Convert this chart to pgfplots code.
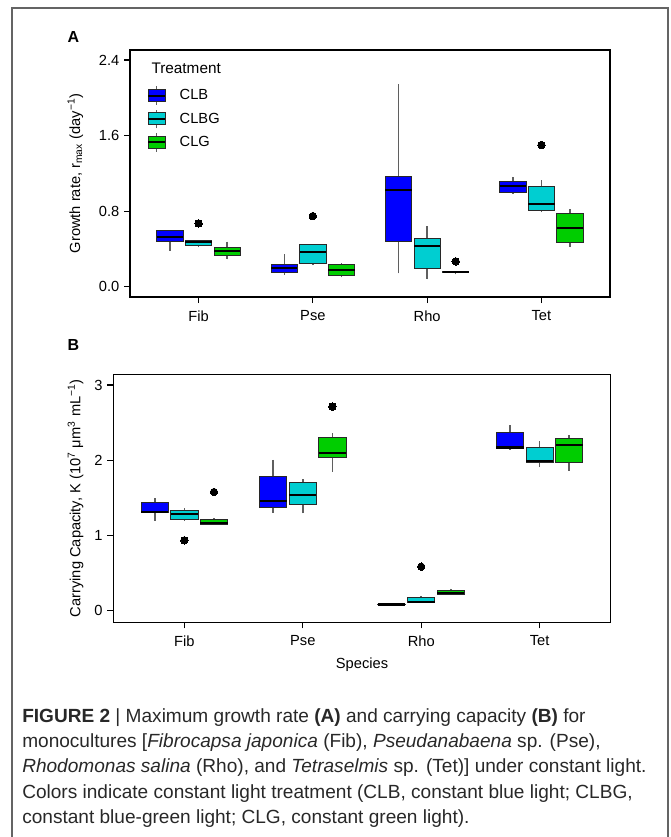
\documentclass[border=0pt]{standalone}
\usepackage{pgfplots}
\pgfplotsset{compat=1.18}
\usepgfplotslibrary{statistics}
\usepackage{fontspec}
\setmainfont{Liberation Sans}
\definecolor{clb}{RGB}{0,0,255}
\definecolor{clbg}{RGB}{0,206,209}
\definecolor{clg}{RGB}{0,205,0}
\definecolor{boxedge}{RGB}{40,40,40}
\definecolor{whiskergray}{RGB}{95,95,95}
\definecolor{framegray}{RGB}{100,100,100}
\definecolor{captext}{RGB}{40,40,40}

% #1 colour, #2 position, #3 lower whisker, #4 lower quartile, #5 median, #6 upper quartile, #7 upper whisker, #8 outliers
\newcommand{\bx}[8]{%
  \addplot[fill=#1, draw=boxedge, line width=0.75pt, mark=*, mark size=2.8pt,
    mark options={black, fill=black, line width=0pt},
    boxplot prepared={draw direction=y, draw position=#2, lower whisker=#3, lower quartile=#4,
      median=#5, upper quartile=#6, upper whisker=#7}] coordinates {#8};}

\pgfplotsset{
  panel/.style={
    scale only axis, xmin=0.4, xmax=4.6,
    axis line style={line width=1.1pt, black},
    tick style={line width=0.8pt, black},
    tick align=outside, major tick length=4.5pt,
    xtick pos=left, ytick pos=left,
    xtick={1,2,3,4}, xticklabels={Fib,Pse,Rho,Tet},
    tick label style={font=\fontsize{11}{13}\selectfont},
    xticklabel style={yshift=-2pt},
    label style={font=\fontsize{11}{13}\selectfont},
    /pgf/number format/assume math mode=true,
    boxplot/draw direction=y,
    boxplot/box extend=0.23,
    boxplot/whisker extend=0,
    boxplot/every whisker/.style={draw=whiskergray, line width=1.1pt},
    boxplot/every median/.style={draw=black, line width=1.6pt},
  },
}

\newcommand{\legicon}[1]{%
  \addlegendimage{legend image code/.code={%
    \draw[whiskergray, line width=1.1pt] (6.5pt,-7pt) -- (6.5pt,7pt);
    \draw[fill=#1, draw=boxedge, line width=0.75pt] (0pt,-4.5pt) rectangle (13pt,4.5pt);
    \draw[black, line width=1.5pt] (0pt,0pt) -- (13pt,0pt);}}}

\begin{document}
\begin{tikzpicture}
\useasboundingbox (0,0) rectangle (502.5pt,-627.75pt);
\draw[framegray, line width=1.1pt] (9pt,-627.75pt) -- (9pt,-6pt) -- (501pt,-6pt) -- (501pt,-627.75pt);

\node[font=\bfseries\fontsize{12}{14}\selectfont] at (55pt,-27.5pt) {A};
\node[font=\bfseries\fontsize{12}{14}\selectfont] at (55pt,-258.5pt) {B};

% ---------------- Panel A ----------------
\begin{axis}[panel,
  at={(97.5pt,-222.75pt)}, anchor=south west,
  width=360pt, height=185.25pt,
  ymin=-0.109, ymax=2.506,
  ytick={0,0.8,1.6,2.4},
  yticklabel style={/pgf/number format/.cd, fixed, fixed zerofill, precision=1},
  ylabel={Growth rate, r\textsubscript{max} (day\textsuperscript{−1})},
  ylabel style={yshift=5pt},
  legend style={draw=none, fill=none, at={(0.035,0.857)}, anchor=north west,
    font=\fontsize{11}{13}\selectfont, row sep=2.4pt, inner sep=0pt,
    /tikz/every odd column/.append style={column sep=8pt}},
  legend cell align=left,
]
\legicon{clb}\addlegendentry{CLB}
\legicon{clbg}\addlegendentry{CLBG}
\legicon{clg}\addlegendentry{CLG}

\node[anchor=base west, font=\fontsize{11.5}{13}\selectfont] at (rel axis cs:0.035,0.905) {Treatment};

% Fib
\bx{clb}{0.75}{0.38}{0.476}{0.53}{0.60}{0.60}{}
\bx{clbg}{1.00}{0.417}{0.438}{0.476}{0.487}{0.49}{(1,0.67)}
\bx{clg}{1.25}{0.29}{0.328}{0.378}{0.417}{0.476}{}
% Pse
\bx{clb}{1.75}{0.127}{0.155}{0.195}{0.233}{0.343}{}
\bx{clbg}{2.00}{0.226}{0.247}{0.37}{0.448}{0.448}{(2,0.748)}
\bx{clg}{2.25}{0.099}{0.116}{0.177}{0.233}{0.247}{}
% Rho
\bx{clb}{2.75}{0.142}{0.476}{1.023}{1.168}{2.142}{}
\bx{clbg}{3.00}{0.078}{0.19}{0.434}{0.508}{0.642}{}
\bx{clg}{3.25}{0.131}{0.150}{0.155}{0.160}{0.160}{(3.25,0.268)}
% Tet
\bx{clb}{3.75}{0.99}{0.995}{1.062}{1.118}{1.164}{}
\bx{clbg}{4.00}{0.787}{0.808}{0.872}{1.066}{1.126}{(4,1.5)}
\bx{clg}{4.25}{0.42}{0.473}{0.625}{0.773}{0.822}{}
\end{axis}

% ---------------- Panel B ----------------
\begin{axis}[panel,
  at={(85pt,-466.7pt)}, anchor=south west,
  width=373pt, height=186pt,
  ymin=-0.154, ymax=3.143,
  ytick={0,1,2,3},
  xlabel={Species},
  xlabel style={yshift=-2pt},
  ylabel={Carrying Capacity, K (10\textsuperscript{7} μm\textsuperscript{3} mL\textsuperscript{−1})},
  ylabel style={yshift=1.5pt},
]
% Fib
\bx{clb}{0.75}{1.197}{1.304}{1.317}{1.441}{1.495}{}
\bx{clbg}{1.00}{1.19}{1.206}{1.29}{1.335}{1.36}{(1,0.936)}
\bx{clg}{1.25}{1.144}{1.144}{1.17}{1.215}{1.23}{(1.25,1.578)}
% Pse
\bx{clb}{1.75}{1.30}{1.366}{1.459}{1.787}{2.004}{}
\bx{clbg}{2.00}{1.295}{1.41}{1.539}{1.707}{1.747}{}
\bx{clg}{2.25}{1.845}{2.04}{2.10}{2.305}{2.36}{(2.25,2.713)}
% Rho
\bx{clb}{2.75}{0.078}{0.080}{0.082}{0.084}{0.086}{}
\bx{clbg}{3.00}{0.106}{0.106}{0.12}{0.178}{0.19}{(3,0.585)}
\bx{clg}{3.25}{0.213}{0.213}{0.23}{0.262}{0.293}{}
% Tet
\bx{clb}{3.75}{2.14}{2.15}{2.17}{2.367}{2.465}{}
\bx{clbg}{4.00}{1.907}{1.968}{1.99}{2.163}{2.253}{}
\bx{clg}{4.25}{1.862}{1.973}{2.208}{2.292}{2.332}{}
\end{axis}

% ---------------- Caption ----------------
\begin{scope}[every node/.style={anchor=base west, inner sep=0pt, text=captext, font=\fontsize{14.3}{17}\selectfont}]
\node at (16.5pt,-541.5pt) {\textbf{FIGURE 2} | Maximum growth rate \textbf{(A)} and carrying capacity \textbf{(B)} for};
\node at (16.5pt,-560.6pt) {monocultures [\textit{Fibrocapsa japonica} (Fib), \textit{Pseudanabaena} sp. (Pse),};
\node at (16.5pt,-579.7pt) {\textit{Rhodomonas salina} (Rho), and \textit{Tetraselmis} sp. (Tet)] under constant light.};
\node at (16.5pt,-598.8pt) {Colors indicate constant light treatment (CLB, constant blue light; CLBG,};
\node at (16.5pt,-617.9pt) {constant blue-green light; CLG, constant green light).};
\end{scope}
\end{tikzpicture}
\end{document}
